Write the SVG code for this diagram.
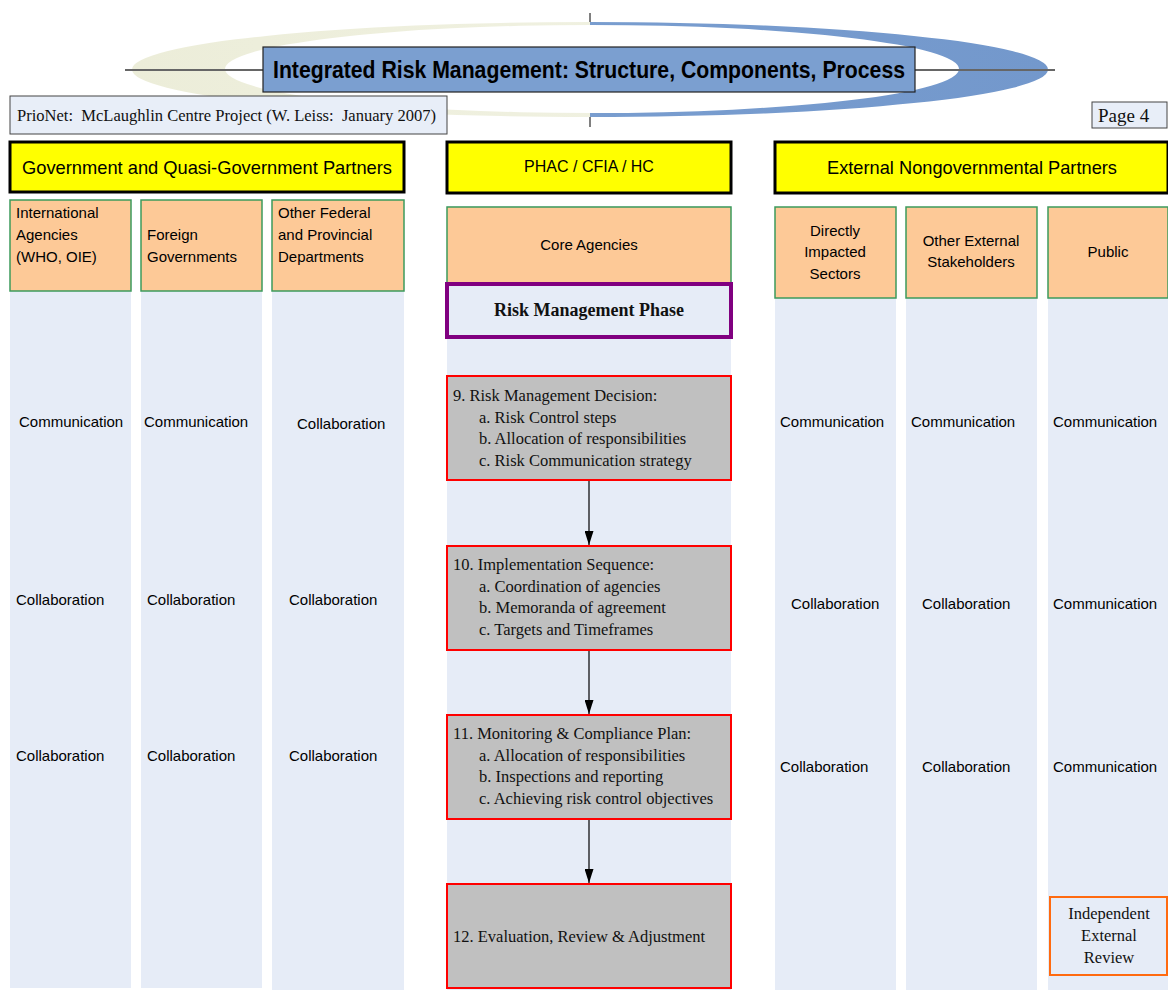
<svg xmlns="http://www.w3.org/2000/svg" width="1168" height="990" viewBox="0 0 1168 990">
<style>
.strip{fill:#e6ecf7}
.org{fill:#fdc997;stroke:#3d9a5c;stroke-width:1.5}
.yel{fill:#ffff00;stroke:#000;stroke-width:3}
.step{fill:#c0c0c0;stroke:#ff0000;stroke-width:2}
.sans{font-family:"Liberation Sans",Arial,sans-serif;fill:#000}
.serif{font-family:"Liberation Serif","Times New Roman",serif;fill:#111}
.lab{font-family:"Liberation Sans",Arial,sans-serif;font-size:15px;fill:#000}
.st{font-family:"Liberation Serif","Times New Roman",serif;font-size:16.5px;fill:#111;white-space:pre}
.mid{text-anchor:middle}
.conn{stroke:#000;stroke-width:1.2;fill:none}
</style>
<defs>
<marker id="ah" viewBox="0 0 14 9" refX="14" refY="4.5" markerWidth="14" markerHeight="9" markerUnits="userSpaceOnUse" orient="auto">
<path d="M0,0 L14,4.5 L0,9 Z" fill="#000"/>
</marker>
<clipPath id="leftHalf"><rect x="0" y="0" width="590" height="140"/></clipPath>
<clipPath id="rightHalf"><rect x="590" y="0" width="600" height="140"/></clipPath>
<linearGradient id="beige" x1="0" y1="0" x2="1" y2="0">
<stop offset="0" stop-color="#ecedd9"/>
<stop offset="0.7" stop-color="#f1f2e3"/>
<stop offset="1" stop-color="#f8f8ef"/>
</linearGradient>
<linearGradient id="blue" x1="0" y1="0" x2="1" y2="0">
<stop offset="0" stop-color="#a9c0e2"/>
<stop offset="0.3" stop-color="#7b9fd0"/>
<stop offset="1" stop-color="#7398cc"/>
</linearGradient>
</defs>

<!-- header swoosh -->
<g id="header-swoosh">
<path fill-rule="evenodd" fill="url(#beige)" clip-path="url(#leftHalf)" d="M132,69.5 A458,47.5 0 1,0 1048,69.5 A458,47.5 0 1,0 132,69.5 Z M225,69 A367,44 0 1,0 959,69 A367,44 0 1,0 225,69 Z"/>
<path fill-rule="evenodd" fill="url(#blue)" clip-path="url(#rightHalf)" d="M132,69.5 A458,47.5 0 1,0 1048,69.5 A458,47.5 0 1,0 132,69.5 Z M225,69 A367,44 0 1,0 959,69 A367,44 0 1,0 225,69 Z"/>
<line x1="125" y1="70" x2="1055" y2="70" stroke="#666" stroke-width="2"/>
<line x1="590" y1="13" x2="590" y2="22" stroke="#000" stroke-width="1"/>
<line x1="590" y1="117" x2="590" y2="127" stroke="#000" stroke-width="1"/>
</g>

<g id="title">
<rect x="263" y="47" width="652" height="45" fill="#7b9fd0" stroke="#222" stroke-width="1.2"/>
<text class="sans" x="273" y="78" font-size="23" font-weight="bold" textLength="632" lengthAdjust="spacingAndGlyphs">Integrated Risk Management: Structure, Components, Process</text>
</g>

<g id="prionet">
<rect x="10" y="96" width="437" height="38" fill="#e8eef8" stroke="#444" stroke-width="1"/>
<text class="serif" x="17" y="121" font-size="16" style="white-space:pre" textLength="419" lengthAdjust="spacingAndGlyphs">PrioNet:  McLaughlin Centre Project (W. Leiss:  January 2007)</text>
</g>

<g id="page">
<rect x="1092" y="102" width="75" height="26" fill="#e8eef8" stroke="#444" stroke-width="1"/>
<text class="serif" x="1098" y="122" font-size="19">Page 4</text>
</g>

<!-- column strips -->
<g id="strips">
<rect class="strip" x="10" y="200" width="121" height="788"/>
<rect class="strip" x="141" y="200" width="121" height="788"/>
<rect class="strip" x="272" y="200" width="132" height="790"/>
<rect class="strip" x="447" y="206" width="284" height="784"/>
<rect class="strip" x="775" y="207" width="121" height="783"/>
<rect class="strip" x="906" y="207" width="131" height="783"/>
<rect class="strip" x="1048" y="207" width="120" height="783"/>
</g>

<g id="gov-header">
<rect class="yel" x="10" y="142" width="394" height="50"/>
<text class="sans mid" x="207" y="174" font-size="19" textLength="370" lengthAdjust="spacingAndGlyphs">Government and Quasi-Government Partners</text>
</g>
<g id="core-header">
<rect class="yel" x="447" y="142" width="284" height="51"/>
<text class="sans mid" x="589" y="172" font-size="16">PHAC / CFIA / HC</text>
</g>
<g id="ext-header">
<rect class="yel" x="775" y="142" width="393" height="51"/>
<text class="sans mid" x="972" y="174" font-size="19" textLength="290" lengthAdjust="spacingAndGlyphs">External Nongovernmental Partners</text>
</g>

<g id="intl-agencies">
<rect class="org" x="10" y="200" width="121" height="91"/>
<text class="lab" x="16" y="218">International</text>
<text class="lab" x="16" y="240">Agencies</text>
<text class="lab" x="16" y="262">(WHO, OIE)</text>
</g>
<g id="foreign-gov">
<rect class="org" x="141" y="200" width="121" height="91"/>
<text class="lab" x="147" y="240">Foreign</text>
<text class="lab" x="147" y="262">Governments</text>
</g>
<g id="fed-prov">
<rect class="org" x="272" y="200" width="132" height="91"/>
<text class="lab" x="278" y="218">Other Federal</text>
<text class="lab" x="278" y="240">and Provincial</text>
<text class="lab" x="278" y="262">Departments</text>
</g>

<g id="core-agencies">
<rect class="org" x="447" y="207" width="284" height="76"/>
<text class="lab mid" x="589" y="250">Core Agencies</text>
</g>
<g id="rm-phase">
<rect x="447" y="284" width="284" height="53" fill="#e6ecf7" stroke="#800080" stroke-width="4"/>
<text class="serif mid" x="589" y="316" font-size="18" font-weight="bold">Risk Management Phase</text>
</g>

<g id="direct-sectors">
<rect class="org" x="775" y="207" width="121" height="91"/>
<text class="lab mid" x="835" y="236">Directly</text>
<text class="lab mid" x="835" y="257">Impacted</text>
<text class="lab mid" x="835" y="279">Sectors</text>
</g>
<g id="other-stakeholders">
<rect class="org" x="906" y="207" width="131" height="91"/>
<text class="lab mid" x="971" y="246">Other External</text>
<text class="lab mid" x="971" y="267">Stakeholders</text>
</g>
<g id="public">
<rect class="org" x="1048" y="207" width="120" height="91"/>
<text class="lab mid" x="1108" y="257">Public</text>
</g>

<g id="step9">
<rect class="step" x="447" y="376" width="284" height="104"/>
<text class="st" x="453" y="401">9. Risk Management Decision:</text>
<text class="st" x="479" y="423">a. Risk Control steps</text>
<text class="st" x="479" y="444">b. Allocation of responsibilities</text>
<text class="st" x="479" y="466">c. Risk Communication strategy</text>
</g>
<g id="step10">
<rect class="step" x="447" y="546" width="284" height="104"/>
<text class="st" x="453" y="570">10. Implementation Sequence:</text>
<text class="st" x="479" y="592">a. Coordination of agencies</text>
<text class="st" x="479" y="613">b. Memoranda of agreement</text>
<text class="st" x="479" y="635">c. Targets and Timeframes</text>
</g>
<g id="step11">
<rect class="step" x="447" y="715" width="284" height="104"/>
<text class="st" x="453" y="739">11. Monitoring &amp; Compliance Plan:</text>
<text class="st" x="479" y="761">a. Allocation of responsibilities</text>
<text class="st" x="479" y="782">b. Inspections and reporting</text>
<text class="st" x="479" y="804">c. Achieving risk control objectives</text>
</g>
<g id="step12">
<rect class="step" x="447" y="884" width="284" height="104"/>
<text class="st" x="453" y="942">12. Evaluation, Review &amp; Adjustment</text>
</g>

<g id="independent-review">
<rect x="1050" y="897" width="117" height="78" fill="#e6ecf7" stroke="#ff6a10" stroke-width="2"/>
<text class="st mid" x="1109" y="919">Independent</text>
<text class="st mid" x="1109" y="941">External</text>
<text class="st mid" x="1109" y="963">Review</text>
</g>

<g id="relation-labels">
<text class="lab" x="19" y="427">Communication</text>
<text class="lab" x="144" y="427">Communication</text>
<text class="lab" x="297" y="429">Collaboration</text>
<text class="lab" x="780" y="427">Communication</text>
<text class="lab" x="911" y="427">Communication</text>
<text class="lab" x="1053" y="427">Communication</text>
<text class="lab" x="16" y="605">Collaboration</text>
<text class="lab" x="147" y="605">Collaboration</text>
<text class="lab" x="289" y="605">Collaboration</text>
<text class="lab" x="791" y="609">Collaboration</text>
<text class="lab" x="922" y="609">Collaboration</text>
<text class="lab" x="1053" y="609">Communication</text>
<text class="lab" x="16" y="761">Collaboration</text>
<text class="lab" x="147" y="761">Collaboration</text>
<text class="lab" x="289" y="761">Collaboration</text>
<text class="lab" x="780" y="772">Collaboration</text>
<text class="lab" x="922" y="772">Collaboration</text>
<text class="lab" x="1053" y="772">Communication</text>
</g>

<g id="connectors">
<line class="conn" x1="589" y1="481" x2="589" y2="545" marker-end="url(#ah)"/>
<line class="conn" x1="589" y1="651" x2="589" y2="714" marker-end="url(#ah)"/>
<line class="conn" x1="589" y1="820" x2="589" y2="883" marker-end="url(#ah)"/>
</g>
</svg>
